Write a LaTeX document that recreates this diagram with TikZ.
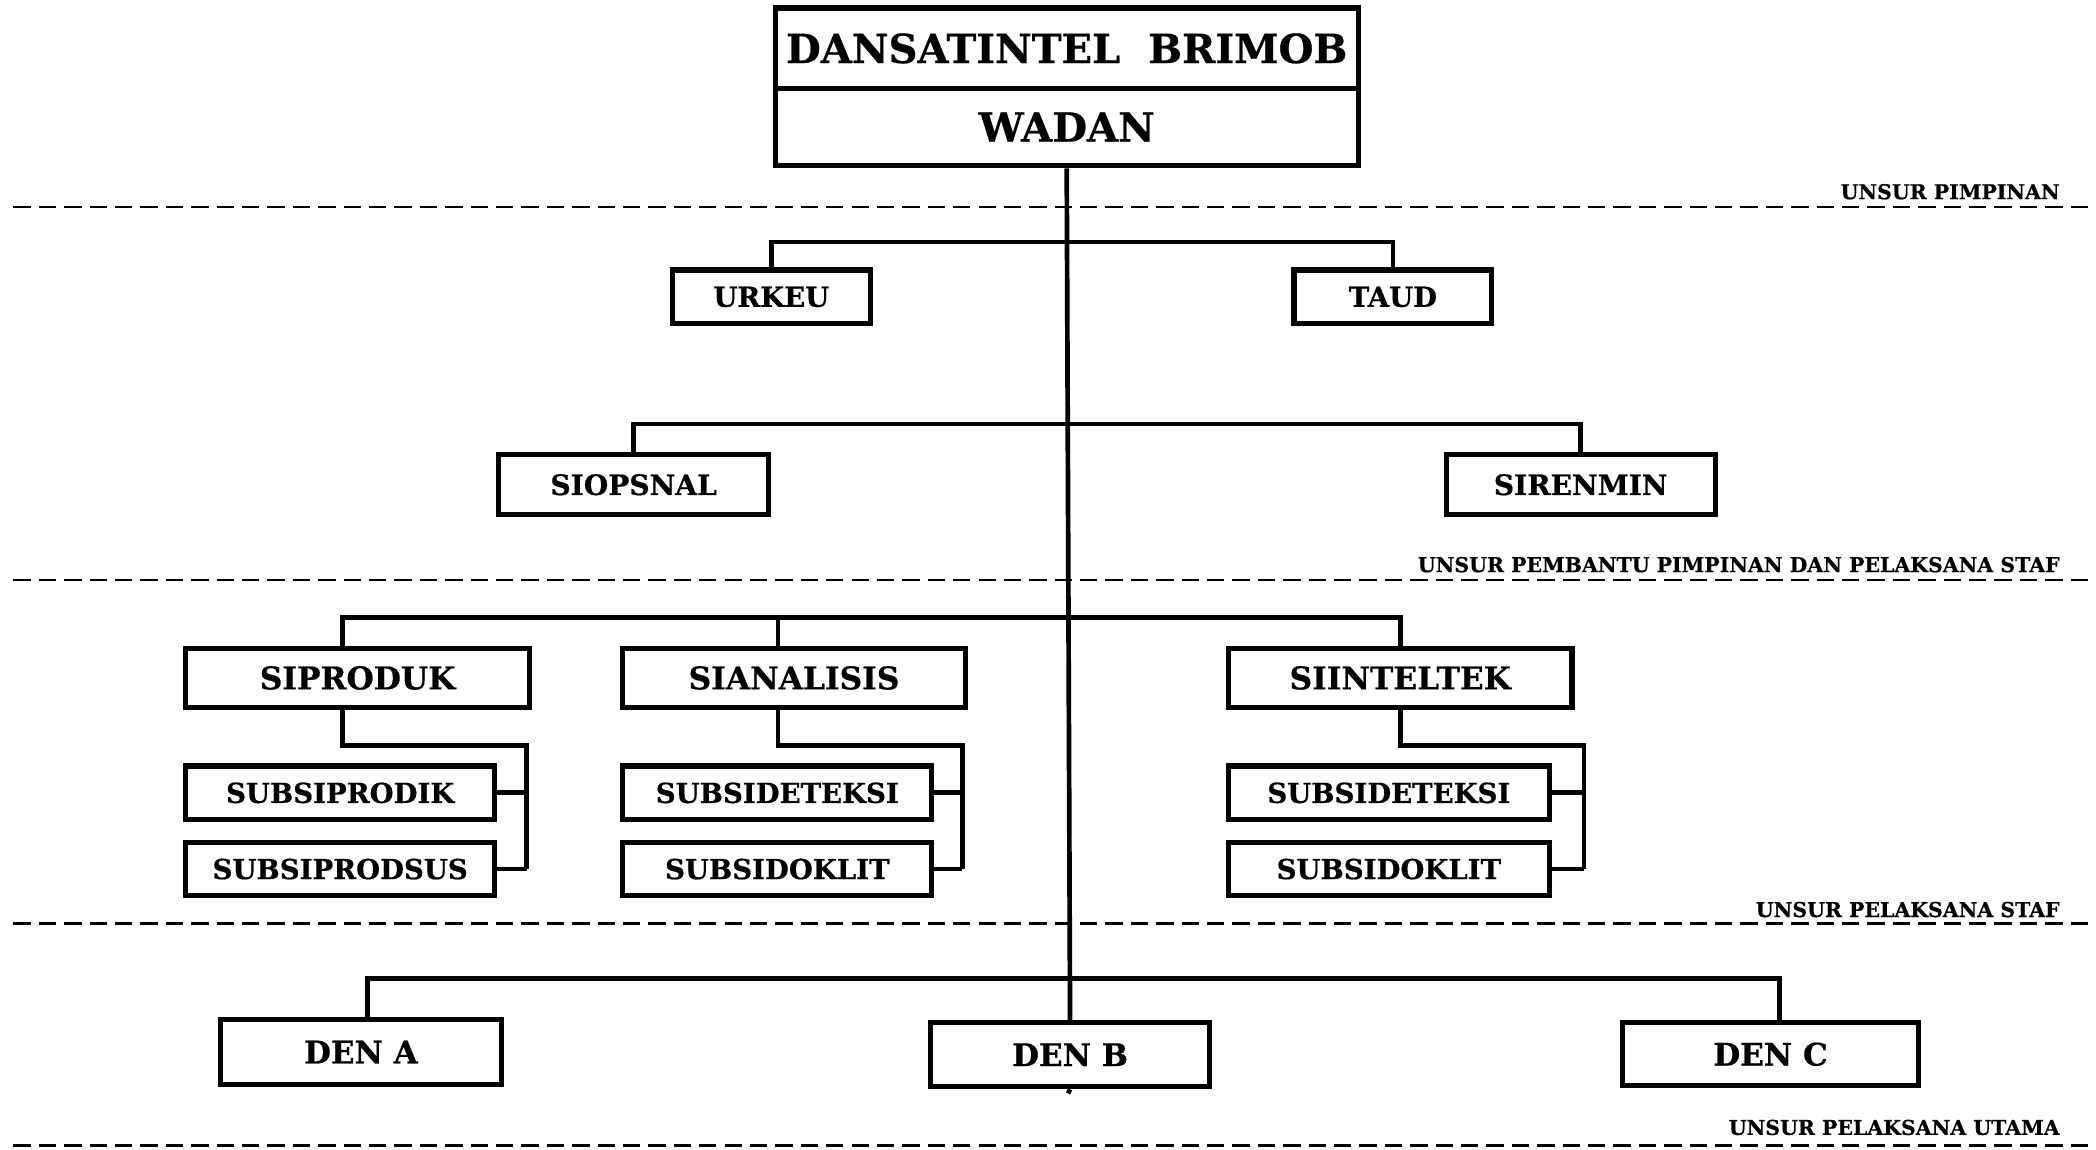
\documentclass[tikz,border=0pt]{standalone}
\usepackage{fontspec}
\setmainfont{DejaVu Serif}[BoldFeatures={FakeBold=0.6}]
\begin{document}
\begin{tikzpicture}[x=1pt,y=-1pt,
  ob/.style={draw,line width=3.8pt,fill=white,inner sep=0pt,text depth=0pt},
  conn/.style={line width=3.5pt},
  sep/.style={line width=1.8pt,dash pattern=on 13pt off 6pt},
  lbl/.style={anchor=base east,inner sep=0pt,font=\bfseries\fontsize{15.3}{15.3}\selectfont},
  ftop/.style={font=\bfseries\fontsize{30}{30}\selectfont},
  fmid/.style={font=\bfseries\fontsize{23.4}{23.4}\selectfont},
  fsio/.style={font=\bfseries\fontsize{21}{21}\selectfont},
  fsub/.style={font=\bfseries\fontsize{20.6}{20.6}\selectfont},
  fsm/.style={font=\bfseries\fontsize{20.6}{20.6}\selectfont},
  fden/.style={font=\bfseries\fontsize{23.2}{23.2}\selectfont}]
\useasboundingbox (0,0) rectangle (1568,860);
% separators
\draw[sep] (10,155) -- (1562,155);
\draw[sep] (10,434) -- (1562,434);
\draw[sep] (10,691) -- (1562,691);
\draw[sep] (10,857) -- (1562,857);
\node[lbl] (l1) at (1541,149) {UNSUR PIMPINAN};
\node[lbl] (l2) at (1541,428) {UNSUR PEMBANTU PIMPINAN DAN PELAKSANA STAF};
\node[lbl] (l3) at (1541,686) {UNSUR PELAKSANA STAF};
\node[lbl] (l4) at (1541,849) {UNSUR PELAKSANA UTAMA};
% top
\node[ob,ftop,minimum width=436pt,minimum height=60pt] (head) at (798,36) {DANSATINTEL\ \ BRIMOB};
\node[ob,ftop,minimum width=436pt,minimum height=58pt] (wadan) at (798,95) {WADAN};
% level 1
\node[ob,fsm,minimum width=148pt,minimum height=40pt] (urkeu) at (577,222) {URKEU};
\node[ob,fsm,minimum width=148pt,minimum height=40pt] (taud) at (1042,222) {TAUD};
% level 2
\node[ob,fsio,minimum width=202pt,minimum height=45pt] (siopsnal) at (474,362.5) {SIOPSNAL};
\node[ob,fsio,minimum width=201pt,minimum height=45pt] (sirenmin) at (1182.5,362.5) {SIRENMIN};
% level 3
\node[ob,fmid,minimum width=257pt,minimum height=44pt] (siproduk) at (267.5,507) {SIPRODUK};
\node[ob,fmid,minimum width=256pt,minimum height=44pt] (sianalisis) at (594,507) {SIANALISIS};
\node[ob,fmid,minimum width=257pt,minimum height=44pt] (siinteltek) at (1047.5,507) {SIINTELTEK};
\node[ob,fsub,minimum width=231pt,minimum height=40pt] (subsiprodik) at (254.5,593) {SUBSIPRODIK};
\node[ob,fsub,minimum width=231pt,minimum height=40pt] (subsiprodsus) at (254.5,650) {SUBSIPRODSUS};
\node[ob,fsub,minimum width=231pt,minimum height=40pt] (subsideteksia) at (581.5,593) {SUBSIDETEKSI};
\node[ob,fsub,minimum width=231pt,minimum height=40pt] (subsidoklita) at (581.5,650) {SUBSIDOKLIT};
\node[ob,fsub,minimum width=240pt,minimum height=40pt] (subsideteksib) at (1039,593) {SUBSIDETEKSI};
\node[ob,fsub,minimum width=240pt,minimum height=40pt] (subsidoklitb) at (1039,650) {SUBSIDOKLIT};
% level 4
\node[ob,fden,minimum width=210pt,minimum height=48pt] (dena) at (270,787) {DEN A};
\node[ob,fden,minimum width=209pt,minimum height=48pt] (denb) at (800.5,789) {DEN B};
\node[ob,fden,minimum width=221pt,minimum height=47pt] (denc) at (1324.5,788.5) {DEN C};
% trunk
\coordinate (tend) at (799,818);
\draw[conn] (wadan.south) -- (denb.north);
\draw[conn] (denb.south) -- (tend);
% branches
\draw[conn] (urkeu.north) -- ++(0,-19) -| (taud.north);
\draw[conn] (siopsnal.north) -- ++(0,-21) -| (sirenmin.north);
\draw[conn] ([xshift=-11.5pt]siproduk.north) -- ++(0,-21) -| (siinteltek.north);
\draw[conn] ([xshift=-12pt]sianalisis.north) -- ++(0,-21);
\draw[conn] ([xshift=5pt]dena.north) -- ++(0,-29) -| ([xshift=6.5pt]denc.north);
% sub brackets
\coordinate (b1) at (394,650);
\coordinate (b2) at (720,650);
\coordinate (b3) at (1185,650);
\draw[conn] ([xshift=-11.5pt]siproduk.south) -- ++(0,27) -| (b1);
\draw[conn] (subsiprodik.east) -- (subsiprodik.east -| b1);
\draw[conn] (subsiprodsus.east) -- (b1);
\draw[conn] ([xshift=-12pt]sianalisis.south) -- ++(0,27) -| (b2);
\draw[conn] (subsideteksia.east) -- (subsideteksia.east -| b2);
\draw[conn] (subsidoklita.east) -- (b2);
\draw[conn] (siinteltek.south) -- ++(0,27) -| (b3);
\draw[conn] (subsideteksib.east) -- (subsideteksib.east -| b3);
\draw[conn] (subsidoklitb.east) -- (b3);
\end{tikzpicture}
\end{document}
